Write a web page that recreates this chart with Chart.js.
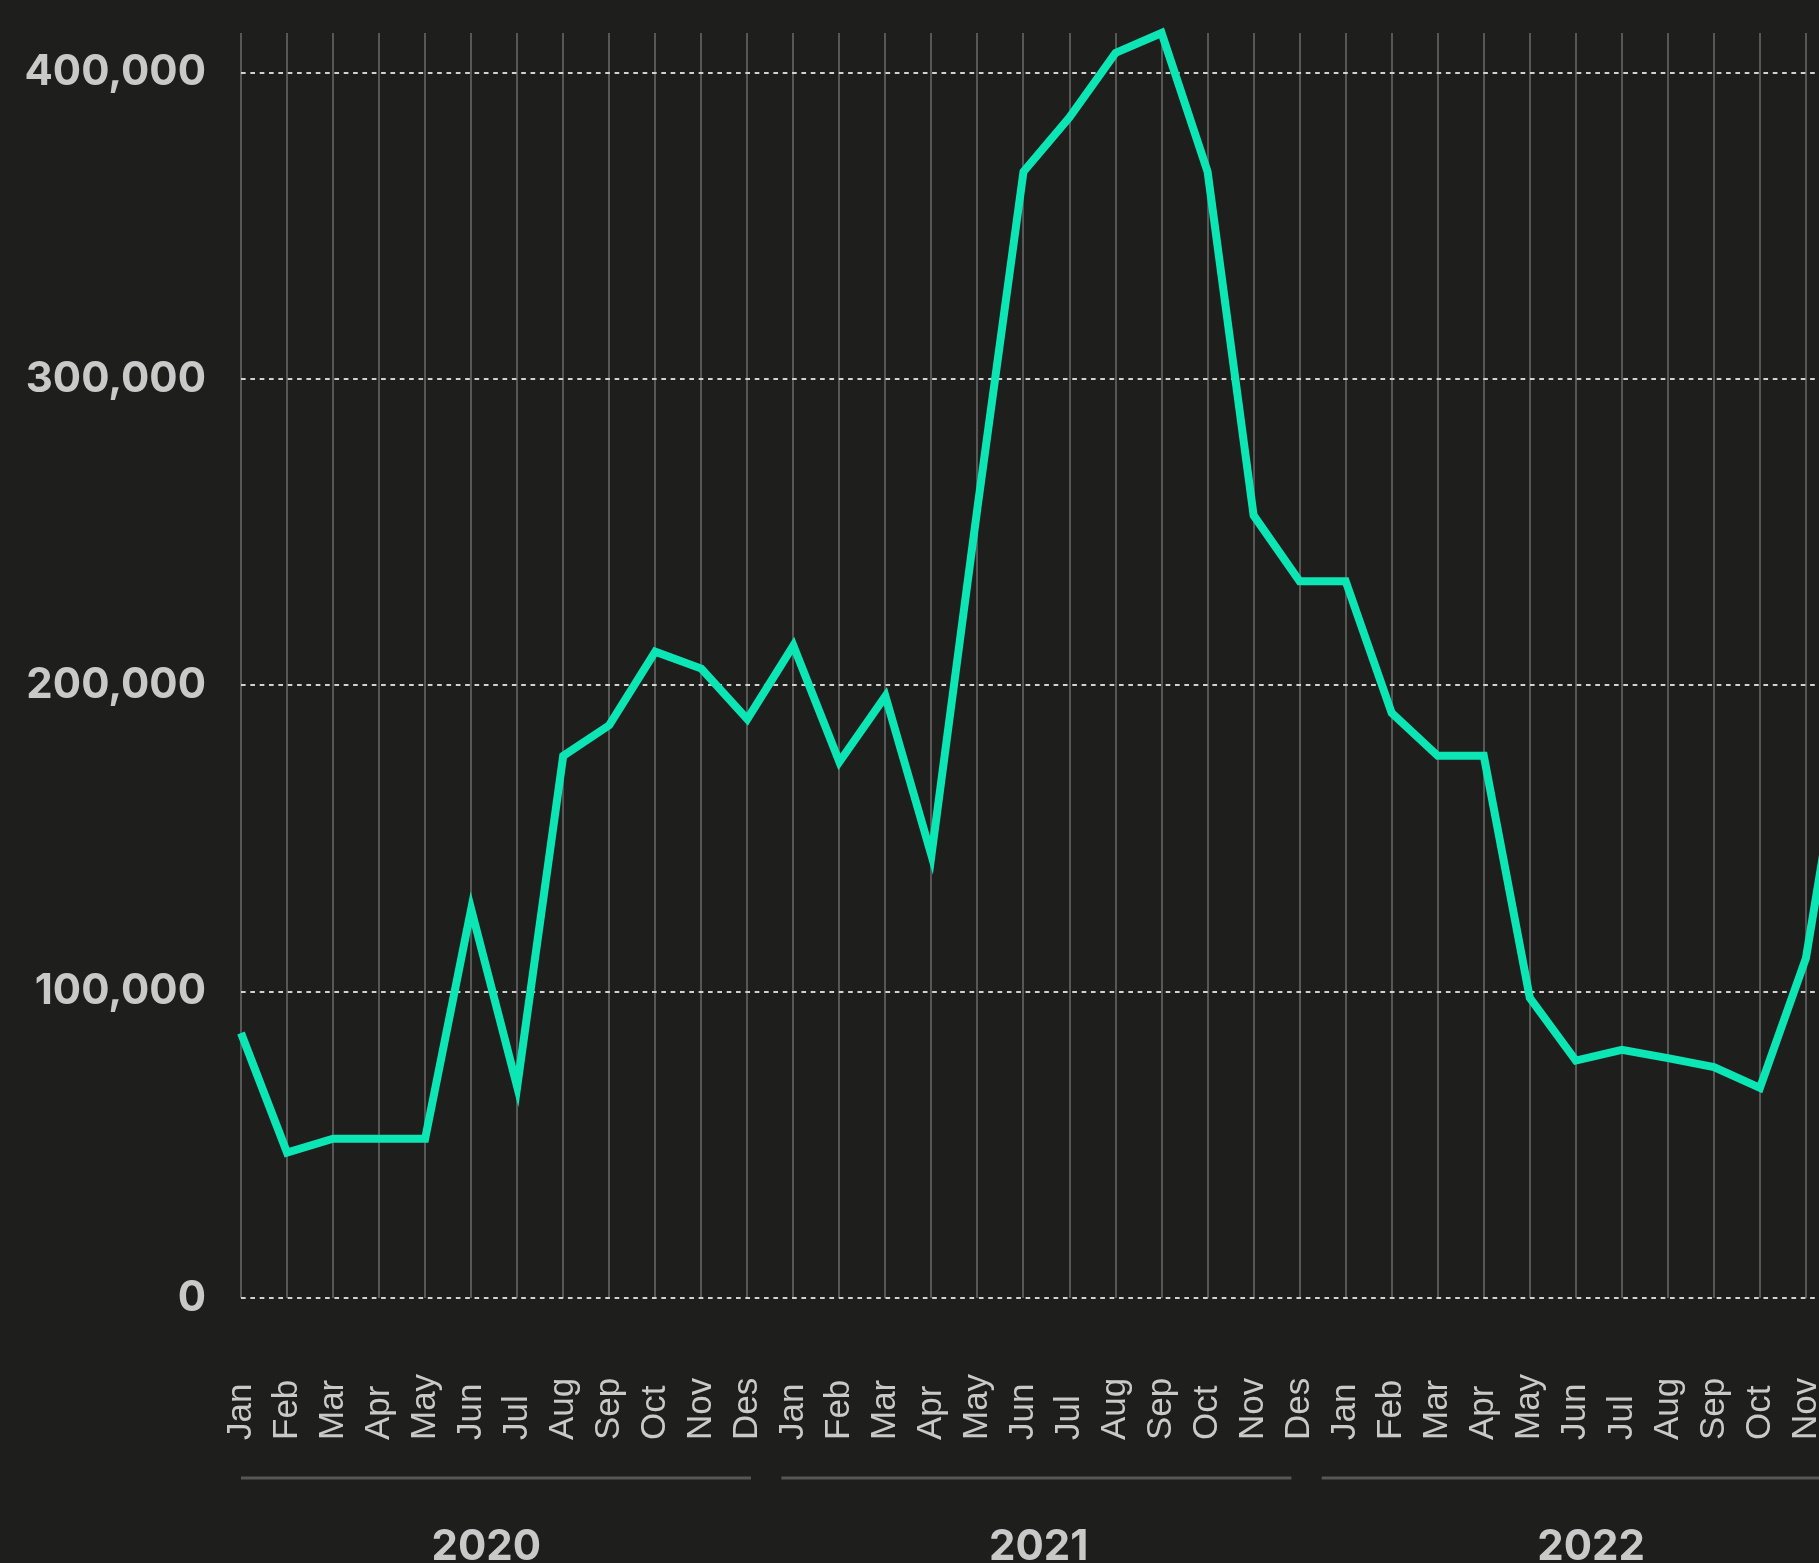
<!DOCTYPE html>
<html>
<head>
<meta charset="utf-8">
<title>Monthly series 2020-2022</title>
<script src="https://cdn.jsdelivr.net/npm/chart.js@4.4.1/dist/chart.umd.min.js"></script>
<style>
  html, body { margin: 0; padding: 0; background: #1e1e1c; overflow: hidden; }
  /* the plot is a bit wider than the window: Dec 2022 sits just past the right edge */
  #wrap { position: relative; width: 1865px; height: 1563px; }
</style>
</head>
<body>
<div id="wrap"><canvas id="chart"></canvas></div>
<script>
// ── data ─────────────────────────────────────────────
const months = ['Jan', 'Feb', 'Mar', 'Apr', 'May', 'Jun', 'Jul', 'Aug', 'Sep', 'Oct', 'Nov', 'Des'];
const years = ['2020', '2021', '2022'];

const values2020 = [86500, 47500, 52000, 52000, 52000, 127000, 69000, 177000, 187000, 211000, 205500, 189000];
const values2021 = [213000, 175000, 196500, 144500, 258000, 367700, 385500, 406500, 413000, 367700, 255500, 234000];
const values2022 = [234000, 191000, 177000, 177000, 98000, 77500, 81000, 78300, 75400, 68600, 111000, 202000];

const yTicks = [0, 100000, 200000, 300000, 400000];

const labels = years.flatMap(() => months);
const values = [...values2020, ...values2021, ...values2022];

const TEXT = '#c9c9c9';
const GRID = '#575757';

// month labels (rotated, start-aligned) + year brackets under the axis
const periodAxis = {
  id: 'periodAxis',
  afterDraw(chart) {
    const { ctx, scales: { x } } = chart;
    const x0 = x.getPixelForValue(0);
    const step = x.getPixelForValue(1) - x0;
    const top = x.top;

    ctx.save();
    ctx.fillStyle = TEXT;
    ctx.font = '35px "Liberation Sans", Arial, sans-serif';
    ctx.textAlign = 'left';
    ctx.textBaseline = 'middle';
    x.ticks.forEach((t, i) => {
      ctx.save();
      ctx.translate(x.getPixelForTick(i), top + 142);
      ctx.rotate(-Math.PI / 2);
      ctx.fillText(x.getLabelForValue(t.value), 0, 0);
      ctx.restore();
    });

    // year groups
    ctx.strokeStyle = GRID;
    ctx.lineWidth = 3;
    ctx.font = 'bold 42px Inter, "Noto Sans", sans-serif';
    ctx.textAlign = 'center';
    ctx.textBaseline = 'alphabetic';
    years.forEach((yr, k) => {
      const start = x0 + k * 11.74 * step;
      const end = start + 11.08 * step;
      ctx.beginPath();
      ctx.moveTo(start, top + 180);
      ctx.lineTo(end, top + 180);
      ctx.stroke();
      ctx.fillText(yr, x.getPixelForValue(k * 12) + 5.33 * step, top + 262);
    });
    ctx.restore();
  }
};

new Chart(document.getElementById('chart'), {
  type: 'line',
  data: {
    labels: labels,
    datasets: [{
      data: values,
      borderColor: '#0be6b4',
      borderWidth: 8,
      borderJoinStyle: 'miter',
      pointRadius: 0,
      tension: 0,
      clip: false
    }]
  },
  options: {
    responsive: true,
    maintainAspectRatio: false,
    animation: false,
    layout: { padding: { top: 33, right: 13, left: 0, bottom: 0 } },
    plugins: {
      legend: { display: false },
      tooltip: { enabled: false }
    },
    scales: {
      x: {
        ticks: { display: false },
        grid: { color: GRID, lineWidth: 2, drawTicks: false },
        border: { display: false },
        afterFit: (s) => { s.height = 265; }
      },
      y: {
        min: yTicks[0],
        max: 413000,
        afterBuildTicks: (s) => { s.ticks = yTicks.map(v => ({ value: v })); },
        ticks: {
          padding: 35,
          color: TEXT,
          font: { family: 'Inter, "Noto Sans", sans-serif', size: 42, weight: 'bold' },
          callback: (v) => v.toLocaleString('en-US')
        },
        grid: { color: '#d2d2d2', lineWidth: 2, drawTicks: false },
        border: { display: false, dash: [4.67, 4.67] },
        afterFit: (s) => {
          s.width = 241;
          s.paddingTop = 0;
          s.paddingBottom = 0;
        }
      }
    }
  },
  plugins: [periodAxis]
});
</script>
</body>
</html>
